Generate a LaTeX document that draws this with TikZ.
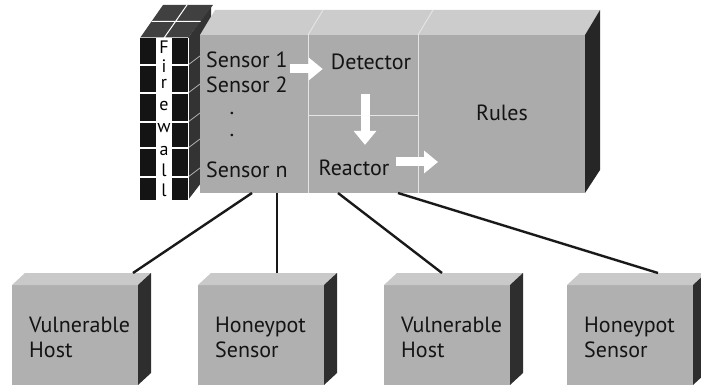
\documentclass[tikz,border=0pt]{standalone}
\usepackage{fontspec}
\setmainfont{PT Sans}
\usetikzlibrary{arrows.meta,calc}
\newcommand{\hostbox}[4]{%
  \node[hostfront, anchor=north west] (#1) at (#2,285) {};
  \fill[hosttop] (#1.north west) -- ++(13,-12) -- ++(126,0) -- (#1.north east) -- cycle;
  \fill[hostside] (#1.north east) -- ++(13,-12) -- ++(0,100) -- (#1.south east) -- cycle;
  \node[lbl, align=left, anchor=west] (#1t) at ([xshift=17pt,yshift=-2pt]#1.west) {#3\\#4};
}
\begin{document}
\begin{tikzpicture}[x=1pt,y=-1pt,
  lbl/.style={font=\fontsize{22}{25}\selectfont, text=black!92, inner sep=0pt},
  fwl/.style={font=\fontsize{18}{20}\selectfont, text=black, inner sep=0pt},
  hostfront/.style={fill=gray!62, minimum width=126pt, minimum height=100pt, inner sep=0pt, outer sep=0pt},
  hosttop/.style={fill=gray!42},
  hostside/.style={fill=black!82},
  mainfront/.style={fill=gray!66, minimum width=385pt, minimum height=158pt, inner sep=0pt, outer sep=0pt},
  divider/.style={white!80!gray, line width=0.9pt},
  link/.style={line width=2.4pt, black!90},
  bigarrow/.style={white, line width=9pt, -{Triangle[width=22pt,length=14pt]}}]
\useasboundingbox (0,0) rectangle (701,390);

% firewall side face (partly hidden by main box)
\fill[black!80] (188,38) -- (211,6) -- (211,170) -- (188,200) -- cycle;

% main box
\fill[gray!40] (200,35) -- (215,10) -- (600,10) -- (585,35) -- cycle;
\fill[black!85] (585,35) -- (600,10) -- (600,170) -- (585,193) -- cycle;
\node[mainfront, anchor=north west] (mb) at (200,35) {};
\draw[divider] (308,35) -- (308,193) (418,35) -- (418,193) (308,115) -- (418,115);
\draw[divider] (308,35) -- (323,10) (418,35) -- (433,10);

% firewall side strip lines
\foreach \y in {65,93,122,148,177} \draw[gray!60, line width=0.8pt] (188,\y) -- (200,\y-9);

% firewall front and top
\fill[black!75] (140,38) -- (163,5) -- (213,5) -- (188,38) -- cycle;
\draw[white, line width=1pt] (164,38) -- (187,5) (151.5,21.5) -- (200.5,21.5) (140,38) -- (188,38);
\fill[black!92] (140,38) rectangle (188,200);
\fill[white] (156,38) rectangle (172,200);
\foreach \y in {65,93,122,148,177} \draw[white, line width=1.2pt] (140,\y) -- (188,\y);
\draw[white, line width=0.8pt] (188,38) -- (188,200);
\node[fwl] (fF) at (164,47) {F};
\node[fwl] (fi) at (164,66) {i};
\node[fwl] (fr) at (164,84) {r};
\node[fwl] (fe) at (164,106) {e};
\node[fwl] (fw) at (164,128) {w};
\node[fwl] (fa) at (164,151) {a};
\node[fwl] (fl1) at (164,170) {l};
\node[fwl] (fl2) at (164,190) {l};

% texts in main box
\node[lbl, anchor=west] (s1) at (206,60) {Sensor 1};
\node[lbl, anchor=west] (s2) at (206,85) {Sensor 2};
\node[lbl] (d1) at (232,113) {.};
\node[lbl] (d2) at (232,135) {.};
\node[lbl, anchor=west] (sn) at (206,170) {Sensor n};
\node[lbl] (det) at (371,62) {Detector};
\node[lbl] (rules) at (502,113) {Rules};
\node[lbl] (reac) at (354,168) {Reactor};

% block arrows
\draw[bigarrow] ([xshift=2pt,yshift=-9pt]s1.east) -- ([xshift=-8pt,yshift=-7pt]det.west);
\draw[bigarrow] ([xshift=-6pt,yshift=-24pt]det.south) -- ([xshift=11pt,yshift=15pt]reac.north);
\coordinate (rtip) at (438,162);
\draw[bigarrow] ([xshift=7pt,yshift=6pt]reac.east) -- (rtip);

% hosts
\hostbox{h1}{12}{Vulnerable}{Host}
\hostbox{h2}{198}{Honeypot}{Sensor}
\hostbox{h3}{384}{Vulnerable}{Host}
\hostbox{h4}{567}{Honeypot}{Sensor}

% connectors
\coordinate (p1) at (252,193);
\coordinate (p2) at (277,193);
\coordinate (p3) at (338,193);
\coordinate (p4) at (398,193);
\coordinate (q1) at (133,273);
\coordinate (q2) at (277,273);
\coordinate (q3) at (442,273);
\coordinate (q4) at (658,273);
\draw[link] (p1) -- (q1);
\draw[link] (p2) -- (q2);
\draw[link] (p3) -- (q3);
\draw[link] (p4) -- (q4);
\end{tikzpicture}
\end{document}
